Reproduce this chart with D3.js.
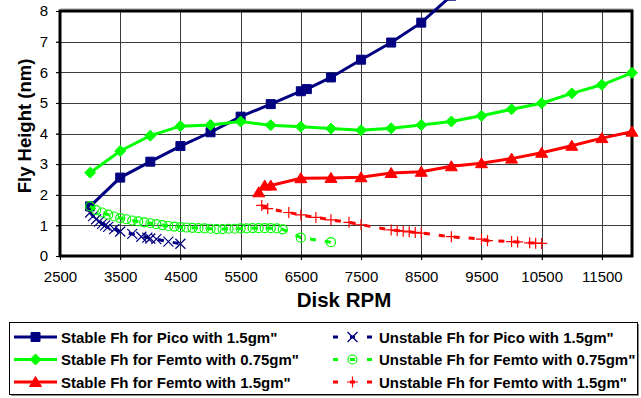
<!DOCTYPE html>
<html lang="en">
<head>
<meta charset="UTF-8">
<title>Fly Height vs Disk RPM</title>
<script src="https://d3js.org/d3.v7.min.js"></script>
<style>
    body { margin: 0; background: #fff; font-family: "Liberation Sans", Arial, sans-serif; }
    svg { display: block; }
    .tick-label { font-size: 15px; fill: #000; }
    .axis-title { font-weight: bold; fill: #000; }
    .legend-text { font-size: 15px; font-weight: bold; fill: #000; }
</style>
</head>
<body>
<div id="chart"></div>
<script>
    // [Disk RPM, Fly Height (nm)]
    const picoStable = [
        [3000, 1.62], [3500, 2.56], [4000, 3.08], [4500, 3.59], [5000, 4.04], [5500, 4.55],
        [6000, 4.96], [6500, 5.38], [6600, 5.45], [7000, 5.83], [7500, 6.41], [8000, 6.97],
        [8500, 7.62], [9000, 8.5]
    ];
    const femto075Stable = [
        [3000, 2.72], [3500, 3.43], [4000, 3.93], [4500, 4.24], [5000, 4.28], [5500, 4.39],
        [6000, 4.27], [6500, 4.22], [7000, 4.16], [7500, 4.11], [8000, 4.17], [8500, 4.28],
        [9000, 4.39], [9500, 4.58], [10000, 4.79], [10500, 4.99], [11000, 5.31], [11500, 5.59],
        [12000, 5.98]
    ];
    const femto15Stable = [
        [5800, 2.08], [5900, 2.3], [6000, 2.3], [6500, 2.54], [7000, 2.55], [7500, 2.57],
        [8000, 2.71], [8500, 2.75], [9000, 2.93], [9500, 3.03], [10000, 3.18], [10500, 3.37],
        [11000, 3.6], [11500, 3.85], [12000, 4.06]
    ];
    const picoUnstable = [
        [3000, 1.42], [3050, 1.3], [3100, 1.2], [3150, 1.12], [3200, 1.05], [3250, 1.0],
        [3300, 0.95], [3400, 0.88], [3500, 0.8], [3700, 0.72], [3850, 0.63], [3950, 0.6],
        [4000, 0.57], [4100, 0.55], [4300, 0.47], [4500, 0.4]
    ];
    const femto075Unstable = [
        [3000, 1.62], [3100, 1.5], [3200, 1.42], [3300, 1.35], [3400, 1.29], [3500, 1.24],
        [3600, 1.2], [3700, 1.16], [3800, 1.13], [3900, 1.1], [4000, 1.07], [4100, 1.04],
        [4200, 1.01], [4300, 0.98], [4400, 0.96], [4500, 0.94], [4600, 0.93], [4700, 0.92],
        [4800, 0.91], [4900, 0.9], [5000, 0.89], [5100, 0.88], [5200, 0.88], [5300, 0.89],
        [5400, 0.89], [5500, 0.9], [5600, 0.9], [5700, 0.91], [5800, 0.91], [5900, 0.91],
        [6000, 0.91], [6100, 0.9], [6200, 0.87], [6500, 0.6], [7000, 0.45]
    ];
    const femto15Unstable = [
        [5850, 1.65], [5950, 1.55], [6300, 1.42], [6500, 1.34], [6750, 1.26], [7000, 1.18],
        [7300, 1.1], [7500, 1.02], [8000, 0.85], [8100, 0.83], [8200, 0.81], [8300, 0.79],
        [8400, 0.77], [8500, 0.75], [9000, 0.63], [9500, 0.55], [9600, 0.5], [10000, 0.47],
        [10100, 0.46], [10300, 0.43], [10400, 0.42], [10500, 0.41]
    ];

    const xTicks = [2500, 3500, 4500, 5500, 6500, 7500, 8500, 9500, 10500, 11500];
    const yTicks = [0, 1, 2, 3, 4, 5, 6, 7, 8];

    const W = 641, H = 398;
    const plot = {left: 60, right: 632, top: 11, bottom: 256};

    const svg = d3.select("#chart").append("svg")
        .attr("width", W).attr("height", H);

    const x = d3.scaleLinear().domain([2500, 12000]).range([plot.left, plot.right]);
    const y = d3.scaleLinear().domain([0, 8]).range([plot.bottom, plot.top]);

    // grid
    const grid = svg.append("g").attr("stroke", "#3a3a3a").attr("stroke-width", 1);
    grid.selectAll(".vg").data(xTicks.slice(1)).enter().append("line")
        .attr("x1", d => Math.round(x(d)) + 0.5).attr("x2", d => Math.round(x(d)) + 0.5)
        .attr("y1", plot.top).attr("y2", plot.bottom + 4);
    grid.selectAll(".hg").data(yTicks.slice(1, -1)).enter().append("line")
        .attr("x1", plot.left - 4).attr("x2", plot.right)
        .attr("y1", d => Math.round(y(d)) + 0.5).attr("y2", d => Math.round(y(d)) + 0.5);

    // axes
    const xAxis = d3.axisBottom(x).tickValues(xTicks).tickSize(4).tickPadding(11).tickFormat(d3.format("d"));
    const gx = svg.append("g").attr("transform", `translate(0,${plot.bottom})`).call(xAxis);
    const yAxis = d3.axisLeft(y).tickValues(yTicks).tickSize(4).tickPadding(8).tickFormat(d3.format("d"));
    const gy = svg.append("g").attr("transform", `translate(${plot.left},0)`).call(yAxis);
    [gx, gy].forEach(g => {
        g.select(".domain").remove();
        g.selectAll(".tick line").attr("stroke", "#000");
        g.selectAll(".tick text").attr("class", "tick-label")
            .style("font-family", '"Liberation Sans", Arial, sans-serif');
    });

    // plot border
    svg.append("line").attr("x1", plot.left).attr("x2", plot.right + 1)
        .attr("y1", plot.top - 2).attr("y2", plot.top - 2).attr("stroke", "#999").attr("stroke-width", 1);
    svg.append("rect")
        .attr("x", plot.left).attr("y", plot.top)
        .attr("width", plot.right - plot.left).attr("height", plot.bottom - plot.top)
        .attr("fill", "none").attr("stroke", "#000").attr("stroke-width", 3);

    // axis titles
    svg.append("text").attr("class", "axis-title")
        .attr("x", 344).attr("y", 307).attr("text-anchor", "middle")
        .style("font-size", "20.5px").text("Disk RPM");
    svg.append("text").attr("class", "axis-title")
        .attr("transform", "translate(31,126) rotate(-90)").attr("text-anchor", "middle")
        .style("font-size", "18.5px").text("Fly Height (nm)");

    // markers
    const shapes = {
        square: "M-4.5,-4.5H4.5V4.5H-4.5Z",
        diamond: "M0,-5.5L5.5,0L0,5.5L-5.5,0Z",
        triangle: "M0,-5.5L6,4.5L-6,4.5Z",
        cross: "M-5,-5L5,5M5,-5L-5,5",
        plus: "M-5.5,0H5.5M0,-5.5V5.5",
        circle: "M4.5,0A4.5,4.5 0 1,1 -4.5,0A4.5,4.5 0 1,1 4.5,0Z"
    };

    const series = [
        {name: 'Stable Fh for Pico with 1.5gm"', data: picoStable, color: "#000080", shape: "square", dashed: false},
        {name: 'Unstable Fh for Pico with 1.5gm"', data: picoUnstable, color: "#000080", shape: "cross", dashed: true},
        {name: 'Stable Fh for Femto with 0.75gm"', data: femto075Stable, color: "#00ff00", shape: "diamond", dashed: false},
        {name: 'Unstable Fh for Femto with 0.75gm"', data: femto075Unstable, color: "#00ff00", shape: "circle", dashed: true},
        {name: 'Stable Fh for Femto with 1.5gm"', data: femto15Stable, color: "#ff0000", shape: "triangle", dashed: false},
        {name: 'Unstable Fh for Femto with 1.5gm"', data: femto15Unstable, color: "#ff0000", shape: "plus", dashed: true}
    ];

    function styleMarker(sel, s) {
        const filled = !s.dashed;
        sel.attr("d", shapes[s.shape])
            .attr("fill", filled ? s.color : "none")
            .attr("stroke", s.color)
            .attr("stroke-width", filled ? 1 : 1.2);
    }

    const line = d3.line().x(d => x(d[0])).y(d => y(d[1]));

    series.forEach(s => {
        const g = svg.append("g");
        g.append("path").datum(s.data)
            .attr("d", line)
            .attr("fill", "none")
            .attr("stroke", s.color)
            .attr("stroke-width", 3)
            .attr("stroke-dasharray", s.dashed ? "6,9" : null);
        g.selectAll("path.m").data(s.data).enter().append("path")
            .attr("class", "m")
            .attr("transform", d => `translate(${x(d[0])},${y(d[1])})`)
            .call(styleMarker, s);
    });

    // legend
    const lg = svg.append("g");
    lg.append("rect").attr("x", 11).attr("y", 324).attr("width", 628).attr("height", 72)
        .attr("fill", "#888");
    lg.append("rect").attr("x", 9.5).attr("y", 322.5).attr("width", 628).attr("height", 72)
        .attr("fill", "#fff").attr("stroke", "#000").attr("stroke-width", 1);

    const rowY = [337, 359.5, 382];
    series.forEach((s, i) => {
        const row = Math.floor(i / 2), col = i % 2;
        const yy = rowY[row];
        const x0 = col === 0 ? 14 : 333, x1 = col === 0 ? 57 : 372;
        const tx = col === 0 ? 61 : 379;
        lg.append("line").attr("x1", x0).attr("x2", x1).attr("y1", yy).attr("y2", yy)
            .attr("stroke", s.color).attr("stroke-width", 3)
            .attr("stroke-dasharray", s.dashed ? "5,12" : null);
        lg.append("path").attr("transform", `translate(${(x0 + x1) / 2},${yy})`)
            .call(styleMarker, s);
        lg.append("text").attr("class", "legend-text")
            .attr("x", tx).attr("y", yy + 5.5).text(s.name);
    });
</script>
</body>
</html>
